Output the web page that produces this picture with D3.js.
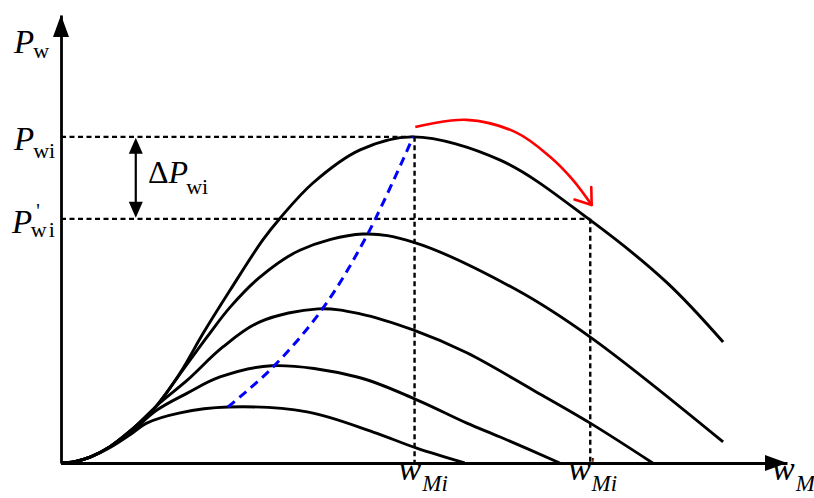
<!DOCTYPE html>
<html lang="en">
<head>
<meta charset="utf-8">
<title>Pw - wM curves</title>
<script src="https://d3js.org/d3.v7.min.js"></script>
<style>
    body { margin: 0; background: #fff; }
    svg { display: block; }
    text { font-family: "Liberation Serif", "Times New Roman", serif; fill: #000; }
    .it { font-style: italic; }
    .curve { fill: none; stroke: #000; stroke-width: 2.9; stroke-linejoin: round; }
    .guide { stroke: #000; stroke-width: 2.4; stroke-dasharray: 5,3.5; }
</style>
</head>
<body>
<script>

// power curves (wM, Pw), one per wind speed, highest first
const curve1 = [[0,0],[1.9,0.3],[4.0,1.3],[6.7,3.6],[9.5,7.1],[12.7,11.8],[16.4,20.1],
    [19.6,29.0],[23.3,38.6],[27.8,49.8],[30.2,54.7],[34.7,62.5],[41.2,69.9],[48.5,72.8],
    [60.5,67.6],[72.9,54.2],[83.5,40.2],[91.2,27.0]];
const curve2 = [[0,0],[1.9,0.3],[4.0,1.3],[6.7,3.6],[9.5,7.1],[12.9,12.3],[16.8,20.8],
    [20.1,28.1],[23.3,34.8],[27.4,41.5],[32.9,47.5],[41.6,51.1],[48.5,49.3],
    [62.8,38.6],[72.9,28.1],[91.2,4.7]];
const curve3 = [[0,0],[1.9,0.3],[4.0,1.3],[6.7,3.6],[9.5,7.1],[13.6,13.4],[17.4,18.5],
    [22.3,25.9],[27.4,31.5],[35.4,34.4],[41.2,33.3],[48.5,29.7],[55.9,24.6],
    [65.0,16.3],[72.9,8.9],[81.5,0]];
const curve4 = [[0,0],[1.9,0.3],[4.0,1.3],[6.7,3.6],[9.5,6.7],[13.2,11.8],[17.4,15.6],
    [21.9,19.2],[29.0,21.7],[40.8,19.2],[49.0,14.1],[55.9,8.9],[60.5,5.8],[68.7,0]];
const curve5 = [[0,0],[1.9,0.3],[4.0,1.3],[6.7,3.4],[9.5,6.3],[11.8,8.9],[16.4,11.2],
    [23.0,12.5],[33.9,11.4],[43.0,6.9],[49.0,3.3],[55.6,0]];
const curves = [curve1, curve2, curve3, curve4, curve5];

// maximum power points (blue dashed)
const mpptCurve = [[23.0,12.5],[29.2,21.4],[36.1,34.6],[42.3,51.3],[48.5,72.8]];

// red arrow over the top curve
const shiftArrow = [[48.8,75.0],[55.9,76.6],[62.8,73.7],[67.4,68.3],[70.5,63.2],[73.1,57.6]];

// reference levels
const pwi = 72.8, pwiShift = 54.5;
const wMi = 48.7, wMiShift = 72.9;
const deltaX = 10.3;

let W = 814, H = 498;

let x = d3.scaleLinear().domain([0, 100]).range([61, 787]);
let y = d3.scaleLinear().domain([0, 100]).range([463, 15]);

let svg = d3.select("body").append("svg")
    .attr("width", W)
    .attr("height", H);

// dashed guides
svg.append("line").attr("class", "guide")
    .attr("x1", x(0)).attr("x2", x(wMi)).attr("y1", y(pwi)).attr("y2", y(pwi));
svg.append("line").attr("class", "guide")
    .attr("x1", x(wMi)).attr("x2", x(wMi)).attr("y1", y(pwi)).attr("y2", y(0));
svg.append("line").attr("class", "guide")
    .attr("x1", x(0)).attr("x2", x(wMiShift)).attr("y1", y(pwiShift)).attr("y2", y(pwiShift));
svg.append("line").attr("class", "guide")
    .attr("x1", x(wMiShift)).attr("x2", x(wMiShift)).attr("y1", y(pwiShift)).attr("y2", y(0));

let line = d3.line()
    .x(d => x(d[0]))
    .y(d => y(d[1]))
    .curve(d3.curveCatmullRom.alpha(0.5));

svg.selectAll("path.curve")
    .data(curves)
    .enter()
    .append("path")
    .attr("class", "curve")
    .attr("d", line);

svg.append("path")
    .attr("d", line(mpptCurve))
    .attr("fill", "none")
    .attr("stroke", "#0000ff")
    .attr("stroke-width", 3)
    .attr("stroke-dasharray", "9,6");

// axes: only the domain lines, no ticks
svg.append("g")
    .attr("transform", "translate(0," + y(0) + ")")
    .call(d3.axisBottom(x).ticks(0).tickSizeOuter(0))
    .select(".domain").attr("stroke-width", 2.8);
svg.append("g")
    .attr("transform", "translate(" + x(0) + ",0)")
    .call(d3.axisLeft(y).ticks(0).tickSizeOuter(0))
    .select(".domain").attr("stroke-width", 2.8);

// arrow heads
let x0 = x(0), y0 = y(0), xe = x(100), ye = y(100);
svg.append("polygon")
    .attr("points", [[xe, y0], [xe - 22, y0 - 8], [xe - 22, y0 + 8]].join(" "));
svg.append("polygon")
    .attr("points", [[x0, ye], [x0 - 8, ye + 22], [x0 + 8, ye + 22]].join(" "));

// delta P double arrow
let ax = x(deltaX), ay1 = y(pwi) + 1, ay2 = y(pwiShift) - 1;
svg.append("line")
    .attr("x1", ax).attr("x2", ax).attr("y1", ay1 + 10).attr("y2", ay2 - 10)
    .attr("stroke", "#000").attr("stroke-width", 2.2);
svg.append("polygon")
    .attr("points", [[ax, ay1], [ax - 7, ay1 + 16], [ax + 7, ay1 + 16]].join(" "));
svg.append("polygon")
    .attr("points", [[ax, ay2], [ax - 7, ay2 - 16], [ax + 7, ay2 - 16]].join(" "));

// red arrow
svg.append("path")
    .attr("d", line(shiftArrow))
    .attr("fill", "none")
    .attr("stroke", "#ff0000")
    .attr("stroke-width", 2.6);
let tip = shiftArrow[shiftArrow.length - 1], prev = shiftArrow[shiftArrow.length - 2];
let tx = x(tip[0]), ty = y(tip[1]);
let ang = Math.atan2(ty - y(prev[1]), tx - x(prev[0]));
[-0.62, 0.62].forEach(a => {
    svg.append("line")
        .attr("x1", tx).attr("y1", ty)
        .attr("x2", tx - 18 * Math.cos(ang + a))
        .attr("y2", ty - 18 * Math.sin(ang + a))
        .attr("stroke", "#ff0000")
        .attr("stroke-width", 2.6)
        .attr("stroke-linecap", "round");
});

// labels
function label(px, py, parts) {
    let t = svg.append("text").attr("x", px).attr("y", py);
    parts.forEach(p => {
        let s = t.append("tspan").text(p.t).attr("font-size", p.s);
        if (p.it) s.attr("class", "it");
        if (p.dy) s.attr("dy", p.dy);
        if (p.dx) s.attr("dx", p.dx);
        if (p.ls) s.attr("letter-spacing", p.ls);
    });
    return t;
}

label(14, 53, [{t: "P", s: 33, it: true}, {t: "w", s: 22, dy: 5, dx: -1}]);
label(14, y(pwi) + 13, [{t: "P", s: 33, it: true}, {t: "wi", s: 22, dy: 8, dx: -1}]);
label(12, y(pwiShift) + 14, [{t: "P", s: 33, it: true}, {t: "'", s: 20, dy: -15, dx: 4},
    {t: "wi", s: 22, dy: 19, dx: -9, ls: 2}]);
label(148, 183, [{t: "\u0394", s: 32}, {t: "P", s: 32, it: true},
    {t: "wi", s: 22, dy: 11, dx: -2}]);

label(x(wMi) - 16, 480, [{t: "w", s: 34, it: true}, {t: "Mi", s: 23, it: true, dy: 11, dx: 1}]);
label(x(wMiShift) - 22, 480, [{t: "w", s: 34, it: true}, {t: "'", s: 20, dy: -8, dx: 0},
    {t: "Mi", s: 23, it: true, dy: 19, dx: -3}]);
label(772, 480, [{t: "w", s: 34, it: true}, {t: "M", s: 23, it: true, dy: 11, dx: 1}]);

</script>
</body>
</html>
